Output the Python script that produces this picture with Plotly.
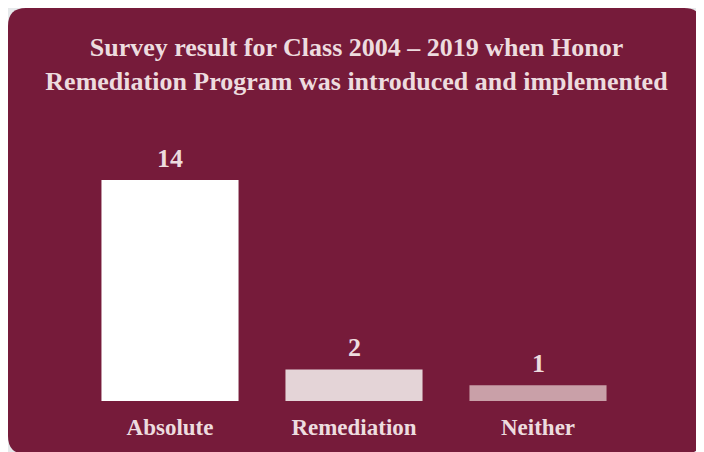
import plotly.graph_objects as go

categories = ["Absolute", "Remediation", "Neither"]
values = [14, 2, 1]
bar_colors = ["#ffffff", "#e4d4d7", "#c9a0a8"]
title_text = "Survey result for Class 2004 – 2019 when Honor<br>Remediation Program was introduced and implemented"

W, H = 704, 452
L, R, T, B = 70, 82, 112, 59
PW, PH = W - L - R, H - T - B
MAROON = "#761b3a"
TXT = "#eddcdf"
FONT = "Liberation Serif"


def px(x):
    return (x - L) / PW


def py(y):
    return (H - B - y) / PH


def rounded_rect(x0, y0, x1, y1, r):
    pts = [
        f"M {px(x0 + r)},{py(y0)}",
        f"L {px(x1 - r)},{py(y0)}",
        f"Q {px(x1)},{py(y0)} {px(x1)},{py(y0 + r)}",
        f"L {px(x1)},{py(y1 - r)}",
        f"Q {px(x1)},{py(y1)} {px(x1 - r)},{py(y1)}",
        f"L {px(x0 + r)},{py(y1)}",
        f"Q {px(x0)},{py(y1)} {px(x0)},{py(y1 - r)}",
        f"L {px(x0)},{py(y0 + r)}",
        f"Q {px(x0)},{py(y0)} {px(x0 + r)},{py(y0)}",
        "Z",
    ]
    return " ".join(pts)


fig = go.Figure(
    go.Bar(
        x=categories,
        y=values,
        marker=dict(color=bar_colors, line=dict(width=0)),
        hoverinfo="skip",
    )
)

for c, v in zip(categories, values):
    fig.add_annotation(
        x=c, y=v, text=str(v), showarrow=False, yanchor="bottom", yshift=5,
        font=dict(family=FONT, size=26, color=TXT, weight="bold"),
    )

fig.add_shape(
    type="path", xref="paper", yref="paper", layer="below",
    path=rounded_rect(0, 0, 694, 446, 18),
    fillcolor=MAROON, line=dict(width=0),
)

fig.update_layout(
    width=W, height=H,
    margin=dict(l=L, r=R, t=T, b=B),
    paper_bgcolor="#e6e9eb",
    plot_bgcolor="rgba(0,0,0,0)",
    bargap=0.255,
    showlegend=False,
    title=dict(
        text=title_text, x=0.495, xanchor="center", y=1 - 48 / H, yanchor="middle",
        font=dict(family=FONT, size=26, color=TXT, weight="bold"),
    ),
    xaxis=dict(
        showgrid=False, zeroline=False, showline=False, ticks="",
        tickfont=dict(family=FONT, size=23, color=TXT, weight="bold"),
        ticklabelstandoff=10,
    ),
    yaxis=dict(range=[0, (H - B - T) / (221 / 14)], visible=False, showgrid=False),
)

fig.write_html("out.html")
